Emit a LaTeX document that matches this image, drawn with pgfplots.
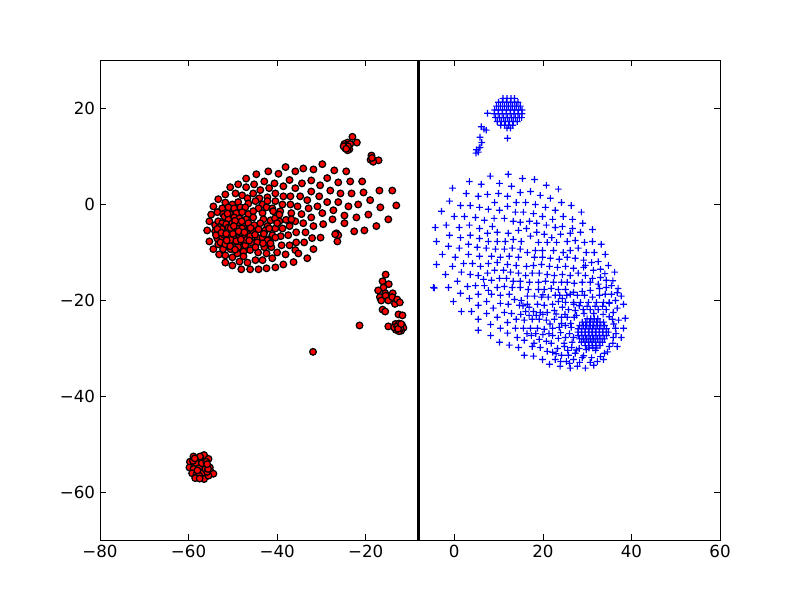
\documentclass[border=0pt]{standalone}
\usepackage{pgfplots}
\pgfplotsset{compat=1.18}
\usepackage{fontspec}
\setmainfont{DejaVu Sans}

% + built from two filled bars: stroked crosses came out black at some points
\makeatletter
\pgfdeclareplotmark{blueplus}{%
  \pgfsys@color@rgb@fill{0}{0}{1}%
  \pgfpathrectangle{\pgfqpoint{-\pgfplotmarksize}{-0.42pt}}{\pgfqpoint{2\pgfplotmarksize}{0.84pt}}%
  \pgfpathrectangle{\pgfqpoint{-0.42pt}{-\pgfplotmarksize}}{\pgfqpoint{0.84pt}{2\pgfplotmarksize}}%
  \pgfusepathqfill
}
\makeatother

\pgfplotstableread{
x y
-29.8 8.3
-34.1 7.4
-31.8 7.2
-35.9 6.8
-38.1 7.7
-42.0 6.8
-39.7 6.3
-44.7 6.2
-47.0 5.3
-27.1 7.0
-24.4 6.8
-37.2 5.0
-32.3 4.9
-28.7 5.4
-26.2 4.5
-23.5 4.7
-20.8 4.7
-34.4 4.3
-30.3 3.9
-42.9 4.7
-40.6 4.3
-45.2 4.1
-48.8 4.1
-50.6 3.5
-38.6 3.7
-35.9 3.3
-47.0 3.5
-43.8 2.9
-41.8 3.3
-32.3 2.6
-28.0 2.8
-25.7 2.2
-23.2 2.2
-20.5 2.4
-16.9 2.8
-14.0 2.8
-51.7 2.0
-49.4 2.2
-47.9 1.8
-45.4 2.2
-40.4 2.2
-38.6 1.6
-37.0 1.6
-34.8 1.6
-30.5 1.6
-33.2 0.8
-28.7 0.4
-26.2 0.4
-19.0 0.8
-53.3 1.0
-46.7 1.2
-44.0 1.2
-42.2 1.4
-40.4 0.6
-38.8 -0.1
-37.0 -0.1
-35.4 -0.5
-30.9 -0.5
-32.9 -0.9
-27.3 -1.3
-23.9 -0.5
-21.7 -0.1
-16.7 -0.7
-13.1 -0.3
-51.7 0.3
-50.1 -0.1
-48.8 0.4
-46.5 0.1
-44.9 0.6
-43.3 -0.1
-42.2 0.6
-36.8 -1.9
-34.5 -2.1
-29.8 -1.9
-24.8 -2.4
-19.4 -2.2
-22.1 -2.8
-32.3 -2.8
-27.5 -3.2
-14.9 -3.2
-35.9 -3.6
-34.1 -4.0
-29.6 -4.2
-24.8 -4.0
-31.8 -4.6
-37.2 -4.6
-17.6 -4.6
-20.3 -5.5
-22.6 -5.7
-35.7 -5.9
-33.6 -5.9
-38.8 -5.1
-40.4 -5.1
-37.5 -6.5
-32.1 -7.1
-30.2 -7.0
-35.7 -8.0
-33.9 -8.0
-39.2 -6.7
-41.1 -6.5
-37.2 -8.6
-39.0 -8.6
-31.8 -9.4
-41.3 -9.0
-42.9 -9.0
-35.9 -9.6
-38.1 -10.5
-35.2 -10.3
-33.2 -11.3
-40.0 -10.1
-44.3 -10.1
-41.1 -11.3
-36.3 -12.1
-38.6 -12.6
-40.4 -13.2
-42.4 -13.4
-44.2 -13.6
-46.1 -13.6
-48.1 -13.6
-50.1 -12.8
-51.7 -12.2
-53.1 -10.5
-54.4 -9.4
-55.3 -7.8
-55.8 -5.5
-55.3 -3.6
-54.9 -2.2
-54.4 -0.5
-43.3 -11.7
-44.9 -11.7
-46.7 -12.2
-48.5 -12.0
-50.1 -11.1
-42.4 -10.3
-47.6 -9.9
-51.7 -10.7
-47.6 -10.9
-49.0 -10.3
-50.5 -9.4
-52.2 -9.4
-53.3 -8.4
-52.4 -0.9
-51.0 -0.7
-49.7 -0.9
-48.3 -0.7
-47.2 -0.7
-44.2 -0.9
-42.4 -0.7
-41.1 -0.9
-53.5 -1.7
-52.2 -2.1
-50.6 -2.1
-49.2 -1.9
-47.9 -1.7
-46.5 -2.1
-45.4 -1.5
-43.3 -1.9
-40.9 -1.5
-39.3 -1.5
-51.9 -2.6
-51.0 -3.2
-49.7 -2.8
-48.5 -3.0
-47.0 -3.2
-45.4 -2.8
-43.1 -3.2
-41.5 -3.4
-39.5 -3.6
-54.0 -4.4
-53.3 -3.6
-52.4 -4.0
-51.5 -4.2
-50.1 -4.0
-49.0 -4.4
-47.6 -4.7
-46.5 -4.0
-45.2 -4.4
-43.8 -4.0
-42.2 -4.6
-54.0 -5.7
-52.8 -5.9
-51.9 -5.5
-50.8 -5.7
-49.4 -5.3
-47.9 -5.1
-46.7 -5.7
-45.6 -5.7
-44.2 -5.3
-42.7 -5.5
-41.8 -5.1
-53.5 -7.2
-52.4 -7.0
-51.0 -6.8
-49.7 -7.0
-48.5 -6.5
-47.4 -6.7
-46.1 -6.7
-44.5 -7.0
-43.3 -7.0
-42.0 -7.4
-40.4 -7.0
-52.8 -8.0
-51.7 -8.4
-50.1 -8.0
-48.8 -8.3
-47.4 -8.0
-45.8 -8.0
-44.5 -8.0
-42.2 -7.6
-48.8 -9.0
-47.2 -8.6
-46.1 -9.6
-44.9 -9.0
-53.0 -4.8
-52.0 -6.4
-51.0 -4.9
-50.0 -6.2
-49.2 -5.0
-48.3 -6.0
-50.5 -7.5
-52.5 -5.2
-48.0 -3.6
-49.5 -3.5
-51.2 -2.0
-46.0 -5.0
-53.8 -6.5
-47.0 -7.5
-53.5 -5.2
-52.6 -6.0
-51.5 -6.2
-50.5 -5.0
-49.8 -4.6
-48.7 -5.7
-47.4 -5.9
-51.4 -7.6
-49.2 -7.7
-45.0 -6.4
-43.0 -6.2
-46.3 -7.6
-48.2 -7.4
-50.6 -8.8
-49.5 -9.5
-43.2 -8.2
-41.5 -8.2
-40.5 -3.0
-38.0 -3.3
-36.8 -3.2
-40.0 -4.0
-39.5 -2.2
-23.0 14.0
-22.0 12.8
-24.1 12.8
-24.8 12.5
-24.6 11.6
-23.7 11.4
-24.1 11.2
-24.4 12.1
-23.5 12.5
-24.0 12.0
-25.0 12.0
-24.4 11.5
-18.7 10.1
-17.1 9.1
-18.9 9.2
-18.3 8.8
-18.6 9.6
-26.6 -6.1
-26.2 -6.5
-26.4 -7.8
-26.9 -6.3
-15.5 -14.7
-16.2 -16.1
-14.8 -16.7
-16.0 -17.4
-17.2 -18.0
-15.6 -18.6
-16.8 -19.4
-15.5 -19.1
-16.5 -20.1
-14.9 -20.1
-13.9 -18.6
-14.0 -19.4
-13.4 -20.8
-12.9 -19.9
-12.3 -20.5
-16.2 -22.0
-15.6 -22.4
-12.6 -23.0
-11.7 -23.2
-14.9 -25.5
-13.3 -25.0
-12.5 -24.9
-11.8 -25.2
-11.5 -25.8
-12.0 -26.4
-12.5 -26.5
-13.2 -26.2
-13.6 -25.7
-12.9 -25.5
-12.2 -25.9
-12.7 -26.0
-12.0 -25.0
-21.4 -25.3
-31.9 -30.8
-58.9 -52.6
-57.4 -53.0
-56.5 -52.3
-55.5 -53.1
-59.7 -53.7
-58.3 -54.0
-56.7 -54.4
-59.8 -54.9
-58.9 -55.2
-57.6 -55.0
-55.2 -54.9
-59.2 -56.1
-58.2 -56.3
-56.8 -56.0
-57.6 -56.6
-58.5 -57.1
-56.5 -57.3
-54.9 -55.9
-54.4 -56.2
-55.5 -56.6
-56.2 -55.2
-57.0 -54.0
-58.0 -55.5
-55.8 -55.8
-56.0 -53.7
-59.0 -53.5
-57.5 -57.2
-55.6 -55.2
-57.4 -52.6
-58.6 -53.0
-55.8 -54.2
}\redpts

\pgfplotstableread{
x y
12.2 6.2
8.1 5.8
3.4 4.7
10.2 4.3
6.1 4.1
15.4 5.3
18.1 5.1
20.8 3.9
23.5 3.1
12.9 3.7
-0.4 3.3
2.7 2.2
5.4 1.6
7.5 2.0
10.0 2.2
12.0 1.6
14.9 2.4
17.2 2.6
19.4 1.8
21.7 1.2
-1.1 0.6
1.4 -0.3
3.6 -0.3
5.7 -0.7
7.7 -1.1
9.1 0.3
10.2 -1.3
12.0 -0.5
14.0 0.3
16.1 0.3
18.3 -0.1
20.6 -0.7
22.8 -1.3
24.2 0.3
26.4 -0.3
28.7 -1.7
-2.9 -1.5
0.0 -2.6
2.3 -2.6
4.8 -2.8
6.8 -3.4
9.0 -3.0
11.3 -3.0
13.8 -1.7
15.6 -1.7
17.9 -2.0
19.9 -2.6
22.2 -3.2
24.6 -2.6
26.7 -3.2
29.0 -4.0
-4.3 -4.9
-1.8 -4.4
1.1 -4.9
3.4 -4.4
5.7 -5.1
8.6 -4.7
13.3 -3.6
14.9 -3.8
17.0 -3.6
18.6 -4.0
20.8 -4.4
22.8 -4.9
24.4 -4.7
26.7 -5.1
31.2 -5.3
-1.1 -6.5
1.4 -7.0
3.6 -6.5
5.7 -7.2
7.5 -6.1
9.7 -5.9
12.2 -6.1
14.5 -5.5
16.3 -5.1
18.6 -5.9
20.3 -6.3
22.0 -7.0
24.0 -6.3
26.2 -6.1
28.5 -5.9
-4.0 -7.8
-1.3 -8.8
1.1 -9.2
3.2 -8.4
5.2 -9.0
7.7 -7.8
9.7 -7.8
11.5 -7.8
13.3 -7.4
15.1 -7.8
17.2 -6.7
19.0 -8.0
21.0 -8.0
23.1 -8.0
25.5 -7.8
27.3 -7.6
29.4 -8.0
31.2 -7.8
33.2 -8.4
-2.7 -10.5
0.2 -11.1
3.2 -10.5
5.7 -10.9
7.2 -9.2
9.3 -9.4
11.3 -9.4
13.1 -9.2
14.9 -9.4
16.5 -10.1
18.3 -9.7
19.9 -9.7
22.4 -9.7
24.6 -10.1
26.2 -9.7
28.0 -9.2
29.8 -10.1
31.6 -10.1
34.1 -10.5
8.4 -10.9
10.4 -11.1
12.4 -10.9
14.5 -11.1
18.1 -11.1
19.9 -11.1
21.7 -11.3
23.7 -11.5
25.5 -11.1
27.3 -11.3
29.2 -11.7
31.0 -12.2
32.5 -12.0
-4.0 -12.6
-0.4 -13.0
2.1 -12.4
4.1 -12.4
5.9 -13.0
7.7 -12.4
9.7 -12.2
12.0 -12.6
14.0 -12.8
16.3 -13.0
17.9 -12.8
19.7 -12.6
21.5 -13.0
23.3 -13.2
25.1 -13.0
26.9 -13.4
29.2 -13.2
31.4 -13.8
33.0 -13.6
34.8 -12.8
-2.0 -14.7
1.6 -14.2
3.6 -14.7
5.4 -14.9
7.5 -14.4
9.1 -13.8
11.1 -13.8
12.7 -14.2
14.5 -14.4
16.1 -14.9
17.6 -14.4
19.2 -14.4
21.0 -14.7
22.6 -14.9
24.4 -14.7
26.2 -14.9
28.0 -14.4
29.6 -14.9
31.2 -15.5
33.0 -15.3
36.2 -14.2
0.7 -16.1
3.0 -17.2
4.8 -17.0
6.8 -17.0
6.6 -15.7
8.4 -15.9
10.2 -15.5
11.8 -15.5
13.3 -16.1
14.9 -16.1
17.0 -16.3
19.0 -16.3
20.6 -16.1
22.4 -16.3
24.2 -16.3
25.5 -16.3
27.1 -16.5
28.9 -16.3
30.7 -16.3
32.5 -16.7
34.3 -15.9
34.3 -17.4
-4.7 -17.4
-4.5 -17.5
-1.3 -17.4
1.4 -18.6
5.4 -18.8
7.7 -18.0
9.7 -17.4
11.3 -17.2
13.1 -17.4
14.9 -17.4
16.7 -17.8
19.0 -17.8
20.3 -17.8
21.9 -17.6
23.5 -17.8
25.1 -17.8
26.9 -18.4
28.9 -18.2
30.7 -18.0
32.8 -17.6
37.0 -17.6
3.4 -19.7
-0.2 -20.3
5.4 -21.1
7.3 -20.3
8.4 -18.8
10.4 -19.0
12.4 -18.8
13.6 -19.9
15.1 -20.1
16.5 -19.2
18.1 -19.2
19.7 -19.4
21.2 -19.4
22.8 -19.0
24.4 -19.7
26.2 -18.8
27.8 -19.0
29.4 -19.0
31.2 -19.4
32.8 -19.0
34.1 -18.8
35.5 -18.8
37.7 -19.2
36.4 -20.1
38.2 -20.9
1.6 -22.4
3.9 -22.4
8.8 -21.7
10.4 -20.7
12.2 -20.9
14.7 -21.1
16.5 -20.9
18.8 -20.9
20.3 -21.1
22.2 -20.9
23.5 -20.3
25.1 -20.5
26.9 -20.5
28.5 -20.5
30.3 -20.5
32.1 -20.5
33.7 -20.5
35.0 -20.5
36.8 -21.7
35.9 -22.6
5.4 -24.0
7.3 -22.8
9.7 -23.6
11.3 -22.6
12.9 -22.8
14.0 -24.0
16.1 -22.4
17.9 -22.4
19.4 -22.6
21.0 -22.6
22.6 -22.2
24.4 -21.5
25.8 -22.0
27.3 -22.2
29.1 -22.0
30.7 -22.0
32.5 -22.0
34.3 -22.0
38.6 -23.8
37.1 -24.2
35.7 -24.0
5.4 -26.3
8.2 -25.1
12.0 -24.7
10.4 -25.9
15.8 -24.2
17.6 -24.0
19.2 -24.0
20.8 -24.2
22.6 -24.0
24.2 -23.6
25.5 -23.6
27.1 -23.6
36.4 -25.9
38.2 -25.9
8.2 -27.4
12.0 -26.9
13.8 -25.9
15.6 -25.9
17.2 -25.9
18.8 -25.9
20.3 -26.1
22.2 -25.9
23.7 -25.7
25.1 -25.3
26.4 -25.7
10.2 -28.8
12.4 -29.4
14.2 -27.8
15.8 -28.4
17.4 -27.4
19.2 -28.2
20.8 -28.6
22.2 -27.4
23.5 -28.0
25.1 -27.8
26.9 -27.8
35.9 -27.8
37.7 -27.8
14.5 -29.9
17.6 -29.7
19.4 -29.9
21.0 -30.7
22.2 -30.9
23.3 -30.1
24.9 -29.7
26.5 -29.9
28.2 -30.1
29.8 -30.3
31.9 -30.5
33.9 -31.1
35.0 -29.7
36.8 -29.7
15.8 -31.5
17.9 -31.7
19.9 -32.4
22.8 -32.4
24.2 -31.5
25.8 -31.5
27.3 -31.1
28.9 -32.0
30.7 -33.0
32.3 -32.8
33.7 -32.4
21.5 -33.4
23.9 -33.8
26.2 -34.2
27.8 -33.8
29.6 -34.2
25.3 -32.8
26.9 -32.4
36.0 -25.0
36.5 -27.0
35.8 -29.0
34.6 -30.8
33.0 -31.8
31.0 -32.0
29.2 -31.6
27.6 -30.4
26.6 -28.8
26.0 -27.0
26.3 -24.9
27.6 -23.2
29.3 -22.8
31.5 -22.8
33.6 -23.0
35.0 -23.5
28.2 -21.2
30.0 -21.3
31.8 -21.3
33.5 -21.3
24.2 -24.9
24.0 -26.8
24.8 -29.0
25.6 -30.5
21.6 -25.0
21.4 -27.0
21.9 -29.0
23.0 -31.2
24.0 -32.8
26.0 -33.2
28.3 -33.0
31.5 -33.6
20.0 -27.2
18.4 -27.0
18.0 -29.0
16.4 -27.0
23.0 -22.9
25.0 -23.0
27.0 -20.9
23.8 -19.0
25.4 -19.0
20.0 -23.0
18.5 -23.2
16.9 -23.2
15.0 -23.0
16.9 -21.5
15.5 -21.2
35.5 -17.0
35.8 -16.0
36.8 -18.5
34.0 -14.5
20.0 -18.9
29.6 -12.8
35.0 -20.7
30.0 -23.9
30.8 -23.9
31.6 -23.9
32.4 -23.9
28.9 -24.6
29.7 -24.6
30.5 -24.6
31.3 -24.6
32.1 -24.6
32.9 -24.6
33.7 -24.6
28.3 -25.3
29.1 -25.3
29.9 -25.3
30.7 -25.3
31.5 -25.3
32.3 -25.3
33.1 -25.3
33.9 -25.3
28.0 -26.0
28.8 -26.0
29.6 -26.0
30.4 -26.0
31.2 -26.0
32.0 -26.0
32.8 -26.0
33.6 -26.0
34.4 -26.0
27.9 -26.7
28.7 -26.7
29.5 -26.7
30.3 -26.7
31.1 -26.7
31.9 -26.7
32.7 -26.7
33.5 -26.7
34.3 -26.7
34.8 -26.7
28.0 -27.4
28.8 -27.4
29.6 -27.4
30.4 -27.4
31.2 -27.4
32.0 -27.4
32.8 -27.4
33.6 -27.4
34.4 -27.4
28.3 -28.1
29.1 -28.1
29.9 -28.1
30.7 -28.1
31.5 -28.1
32.3 -28.1
33.1 -28.1
33.9 -28.1
28.7 -28.8
29.5 -28.8
30.3 -28.8
31.1 -28.8
31.9 -28.8
32.7 -28.8
33.5 -28.8
29.6 -29.5
30.4 -29.5
31.2 -29.5
32.0 -29.5
32.9 -29.5
30.4 -30.0
31.3 -30.0
32.2 -30.0
11.0 22.0
11.9 22.0
12.8 22.0
13.6 22.0
10.0 21.2
10.9 21.2
11.8 21.2
12.7 21.2
13.6 21.2
14.4 21.2
9.5 20.4
10.4 20.4
11.3 20.4
12.2 20.4
13.1 20.4
14.0 20.4
14.9 20.4
9.1 19.6
10.0 19.6
10.9 19.6
11.8 19.6
12.7 19.6
13.6 19.6
14.5 19.6
15.3 19.6
9.0 18.8
9.9 18.8
10.8 18.8
11.7 18.8
12.6 18.8
13.5 18.8
14.4 18.8
15.3 18.8
9.3 18.0
10.2 18.0
11.1 18.0
12.0 18.0
12.9 18.0
13.8 18.0
14.7 18.0
15.2 18.0
9.7 17.2
10.6 17.2
11.5 17.2
12.4 17.2
13.3 17.2
14.2 17.2
10.5 16.4
11.4 16.4
12.3 16.4
13.2 16.4
11.9 15.8
12.7 15.8
7.5 18.9
6.1 16.1
6.7 15.6
7.2 15.4
5.8 13.9
6.2 12.8
5.8 11.8
5.6 11.7
5.0 11.3
5.4 10.8
4.9 10.6
12.0 13.7
}\bluepts

\begin{document}
\begin{tikzpicture}
\path[use as bounding box] (-72pt,-43.2pt) rectangle (504pt,388.8pt);
\begin{axis}[
    scale only axis,
    width=446.4pt,
    height=345.6pt,
    xmin=-80, xmax=60,
    ymin=-70, ymax=30,
    xtick={-80,-60,-40,-20,0,20,40,60},
    xticklabels={−80,−60,−40,−20,0,20,40,60},
    ytick={-60,-40,-20,0,20},
    yticklabels={−60,−40,−20,0,20},
    tick align=inside,
    major tick length=4pt,
    tick style={black,line width=0.5pt},
    axis line style={line width=0.7pt},
    tick label style={font=\fontsize{12}{14}\selectfont},
]
\addplot[only marks,mark=*,mark size=2.4pt,
    mark options={fill=red,draw=black,line width=0.9pt}] table {\redpts};
\addplot[only marks,color=blue,mark=blueplus,mark size=2.4pt,
    mark options={color=blue}] table {\bluepts};
\addplot[black,line width=2.2pt] coordinates {(-8.1,-70) (-8.1,30)};
\end{axis}
\end{tikzpicture}
\end{document}
